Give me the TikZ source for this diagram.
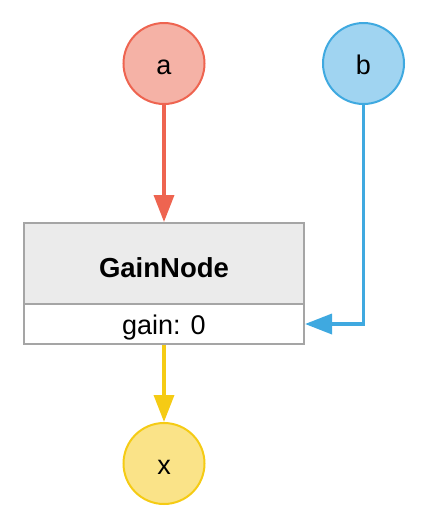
\documentclass[tikz,border=0pt]{standalone}
\usepackage{fontspec}
\setmainfont{Liberation Sans}
\usetikzlibrary{arrows.meta}
\definecolor{redS}{HTML}{EE6450}
\definecolor{redF}{HTML}{F5B2A6}
\definecolor{blueS}{HTML}{3FA9E0}
\definecolor{blueF}{HTML}{A0D4F1}
\definecolor{yelS}{HTML}{F5CB14}
\definecolor{yelF}{HTML}{FAE388}
\definecolor{boxS}{HTML}{A5A5A5}
\definecolor{boxF}{HTML}{EBEBEB}
\begin{document}
\begin{tikzpicture}[x=1pt,y=-1pt,
  varnode/.style={circle, minimum size=81pt, inner sep=0pt, line width=2pt,
    font=\fontsize{27}{32}\selectfont, text height=27pt, text depth=5.4pt},
  headbox/.style={rectangle, draw=boxS, fill=boxF, line width=2pt,
    minimum width=280pt, minimum height=81pt, inner sep=0pt,
    font=\fontsize{27.5}{32}\selectfont\bfseries, text height=32.4pt, text depth=5.4pt},
  bodybox/.style={rectangle, draw=boxS, fill=white, line width=2pt,
    minimum width=280pt, minimum height=40pt, inner sep=0pt,
    font=\fontsize{27}{32}\selectfont, text height=27pt, text depth=5.4pt},
  conn/.style={line width=3.5pt, -{Triangle[length=27pt,width=20pt]}}]
\useasboundingbox (0,0) rectangle (428,528);
\node[varnode, draw=redS, fill=redF] (a) at (164,63.5) {a};
\node[varnode, draw=blueS, fill=blueF] (b) at (363.5,63.5) {b};
\node[varnode, draw=yelS, fill=yelF] (x) at (164,463.5) {x};
\node[headbox] (head) at (164,263.5) {GainNode};
\node[bodybox] (body) at (164,324) {gain: 0};
\draw[conn, redS] (a.south) -- (head.north);
\draw[conn, yelS] (body.south) -- (x.north);
\draw[conn, blueS] (b.south) |- (body.east);
\end{tikzpicture}
\end{document}
